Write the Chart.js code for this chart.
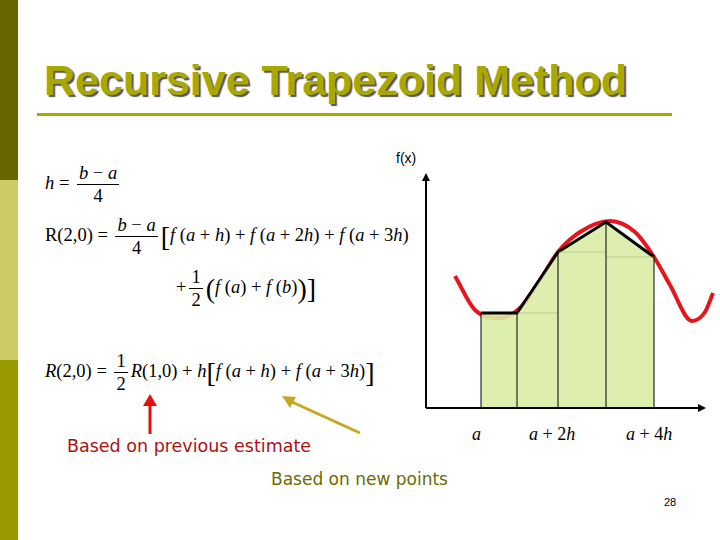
<!DOCTYPE html>
<html><head><meta charset="utf-8">
<script src="https://cdn.jsdelivr.net/npm/chart.js@4"></script>
<style>
body{margin:0;width:720px;height:540px;position:relative;background:#fff;overflow:hidden;font-family:"Liberation Serif",serif;}
.a{position:absolute;white-space:nowrap}
.fr{display:inline-block;vertical-align:middle;text-align:center;margin:0 3px}
.fr span{display:block;padding:0 2px;line-height:22px}
.fr span.n{border-bottom:1px solid #000}
.m{font-size:18.5px;color:#000}
.m i{font-style:italic}
.big{font-size:28px;vertical-align:middle}
</style></head><body>
<div class="a" style="left:0;top:0;width:18px;height:180px;background:#666600"></div>
<div class="a" style="left:0;top:180px;width:18px;height:180px;background:#cccc66"></div>
<div class="a" style="left:0;top:360px;width:18px;height:180px;background:#999900"></div>
<div class="a" style="left:44px;top:56px;font:bold 43px 'Liberation Sans',Arial,sans-serif;color:#a8a800;text-shadow:2px 2px 1px #555">Recursive Trapezoid Method</div>
<div class="a" style="left:37px;top:113px;width:635px;height:3px;background:#a8a800"></div>

<div class="a m" style="left:45px;top:162px"><i>h</i> = <div class="fr"><span class="n"><i>b</i> − <i>a</i></span><span>4</span></div></div>
<div class="a m" style="left:45px;top:214px">R(2,0) = <div class="fr"><span class="n"><i>b</i> − <i>a</i></span><span>4</span></div><span class="big">[</span><i>f</i> (<i>a</i> + <i>h</i>) + <i>f</i> (<i>a</i> + 2<i>h</i>) + <i>f</i> (<i>a</i> + 3<i>h</i>)</div>
<div class="a m" style="left:176px;top:266px">+<div class="fr"><span class="n">1</span><span>2</span></div><span class="big">(</span><i>f</i> (<i>a</i>) + <i>f</i> (<i>b</i>)<span class="big">)]</span></div>
<div class="a m" style="left:45px;top:350px"><i>R</i>(2,0) = <div class="fr"><span class="n">1</span><span>2</span></div><i>R</i>(1,0) + <i>h</i><span class="big">[</span><i>f</i> (<i>a</i> + <i>h</i>) + <i>f</i> (<i>a</i> + 3<i>h</i>)<span class="big">]</span></div>

<div class="a" style="left:396px;top:150px;font:14px 'Liberation Sans',Arial,sans-serif">f(x)</div>
<div class="a m" style="left:472px;top:424px;font-size:18px"><i>a</i></div>
<div class="a m" style="left:529px;top:424px;font-size:18px"><i>a</i> + 2<i>h</i></div>
<div class="a m" style="left:626px;top:424px;font-size:18px"><i>a</i> + 4<i>h</i></div>

<div class="a" style="left:67px;top:436px;font:17.5px 'DejaVu Sans',sans-serif;color:#b01010">Based on previous estimate</div>
<div class="a" style="left:271px;top:469px;font:17px 'DejaVu Sans',sans-serif;color:#6b6b00">Based on new points</div>
<div class="a" style="left:664px;top:496px;font:11px 'Liberation Sans',Arial,sans-serif">28</div>

<svg class="a" style="left:0;top:0" width="720" height="540">
<line x1="150" y1="434" x2="150" y2="404" stroke="#e01010" stroke-width="3"/>
<polygon points="143,406 157,406 150,394" fill="#e01010"/>
<line x1="360" y1="433" x2="292" y2="402" stroke="#c8a820" stroke-width="3"/>
<polygon points="282,396 296,397 290,408" fill="#c8a820"/>
</svg>

<div class="a" style="left:416px;top:163px;width:304px;height:255px"><canvas id="c"></canvas></div>
<script>
const curveX=[29,49,74,94,114,132,154,184,209,228,244,266,279,287];
const curveY=[132,98,90,100,128,156,176,187,176,151,123,87,96,115];
const nodeX=[55,91,132,180,228];
const nodeY=[95,95,156,186,151];
const midX=[[91,132],[132,180],[180,228]];
const midY=[95,156,151];
const ds=[];
ds.push({data:nodeX.map((x,i)=>({x,y:nodeY[i]})),borderColor:'#000',borderWidth:3,backgroundColor:'rgba(218,236,165,0.9)',fill:'origin',pointRadius:0,tension:0,order:2});
nodeX.forEach((x,i)=>ds.push({data:[{x,y:0},{x,y:nodeY[i]}],borderColor:'#000',borderWidth:1,pointRadius:0,fill:false,order:1}));
midX.forEach((r,i)=>ds.push({data:[{x:r[0],y:midY[i]},{x:r[1],y:midY[i]}],borderColor:'rgba(160,180,120,0.6)',borderWidth:1,pointRadius:0,fill:false,order:1}));
ds.push({data:curveX.map((x,i)=>({x,y:curveY[i]})),borderColor:'#e8141b',borderWidth:4,pointRadius:0,fill:false,tension:0.4,cubicInterpolationMode:'monotone',clip:false,order:3});
const axes={id:'axes',afterDatasetsDraw(ch){const a=ch.chartArea,c=ch.ctx;c.save();c.strokeStyle='#000';c.fillStyle='#000';c.lineWidth=2;
c.beginPath();c.moveTo(a.left,a.bottom);c.lineTo(a.right-6,a.bottom);c.moveTo(a.left,a.bottom);c.lineTo(a.left,a.top+6);c.stroke();
c.beginPath();c.moveTo(a.right,a.bottom);c.lineTo(a.right-8,a.bottom-4);c.lineTo(a.right-8,a.bottom+4);c.fill();
c.beginPath();c.moveTo(a.left,a.top);c.lineTo(a.left-4,a.top+8);c.lineTo(a.left+4,a.top+8);c.fill();c.restore();}};
new Chart(document.getElementById('c'),{type:'line',data:{datasets:ds},plugins:[axes],
options:{responsive:true,maintainAspectRatio:false,animation:false,layout:{padding:{left:10,top:10,right:14,bottom:10}},
plugins:{legend:{display:false},tooltip:{enabled:false}},
scales:{x:{type:'linear',min:0,max:280,display:false},y:{min:0,max:235,display:false}}}});
</script>
</body></html>
